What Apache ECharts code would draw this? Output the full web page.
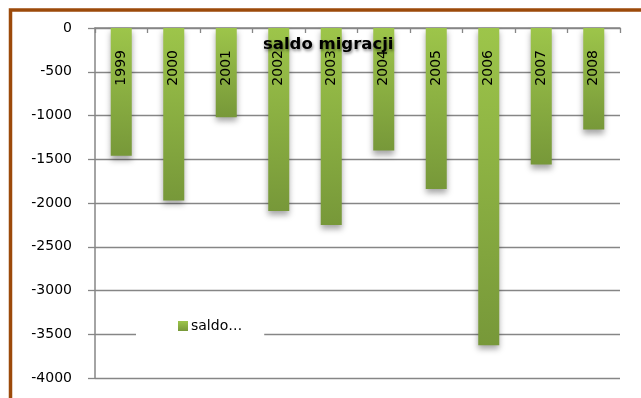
<!DOCTYPE html>
<html>
<head>
<meta charset="utf-8">
<script src="https://cdn.jsdelivr.net/npm/echarts@6/dist/echarts.min.js"></script>
<style>
  html, body { margin: 0; padding: 0; background: #fff; }
  #chart { width: 641px; height: 398px; }
</style>
</head>
<body>
<div id="chart"></div>
<script>
// Net migration balance by year
const years = ['1999', '2000', '2001', '2002', '2003', '2004', '2005', '2006', '2007', '2008'];
const saldo = [-1460, -1970, -1020, -2090, -2250, -1400, -1840, -3625, -1560, -1160];
const seriesName = 'saldo migracji';
const legendLabel = 'saldo…';

const FONT = 'DejaVu Sans';
const GRID = '#868686';

const chart = echarts.init(document.getElementById('chart'), null, { renderer: 'canvas' });

chart.setOption({
  backgroundColor: '#ffffff',
  animation: false,
  title: {
    text: 'saldo migracji',
    left: 258,
    top: 31,
    textStyle: {
      fontFamily: FONT,
      fontSize: 16.5,
      fontWeight: 'bold',
      color: '#000',
      textShadowColor: 'rgba(0,0,0,0.45)',
      textShadowBlur: 3,
      textShadowOffsetX: 1,
      textShadowOffsetY: 2
    }
  },
  legend: {
    left: 136,
    top: 312,
    padding: [7, 22, 12, 42],
    backgroundColor: '#ffffff',
    itemWidth: 10,
    itemHeight: 10,
    itemGap: 3,
    icon: 'rect',
    formatter: () => legendLabel,
    textStyle: { fontFamily: FONT, fontSize: 14, color: '#000', padding: [0, 0, 0, -2] },
    data: [seriesName]
  },
  grid: { left: 95, right: 21, top: 28, bottom: 20, containLabel: false },
  xAxis: {
    type: 'category',
    position: 'top',
    data: years,
    axisLine: { lineStyle: { color: GRID, width: 1.5 } },
    axisTick: { show: true, inside: true, length: 5, lineStyle: { color: GRID, width: 1.3 } },
    axisLabel: { show: false },
    splitLine: { show: false }
  },
  yAxis: {
    type: 'value',
    min: -4000,
    max: 0,
    interval: 500,
    axisLine: { show: true, lineStyle: { color: GRID, width: 1.5 } },
    axisTick: { show: true, length: 7, lineStyle: { color: GRID, width: 1.3 } },
    axisLabel: {
      margin: 23,
      fontFamily: FONT,
      fontSize: 14,
      color: '#000',
      formatter: (v) => String(v)
    },
    splitLine: { show: true, lineStyle: { color: GRID, width: 1.3 } }
  },
  series: [{
    name: seriesName,
    type: 'bar',
    data: saldo,
    barWidth: 21,
    itemStyle: {
      color: new echarts.graphic.LinearGradient(0, 0, 0, 1, [
        { offset: 0, color: '#9dc54a' },
        { offset: 1, color: '#779839' }
      ]),
      shadowColor: 'rgba(0,0,0,0.35)',
      shadowBlur: 6,
      shadowOffsetY: 4
    },
    label: {
      show: true,
      position: ['50%', 22],
      rotate: 90,
      align: 'right',
      verticalAlign: 'middle',
      formatter: (p) => p.name,
      fontFamily: FONT,
      fontSize: 14,
      color: '#000'
    }
  }],
  graphic: [{
    // frame around the chart area (only its top and left edges fall inside the canvas)
    type: 'rect',
    silent: true,
    z: 100,
    shape: { x: 10.5, y: 10, width: 800, height: 600 },
    style: { fill: 'none', stroke: '#9c4a0a', lineWidth: 3.5 }
  }]
});
</script>
</body>
</html>
